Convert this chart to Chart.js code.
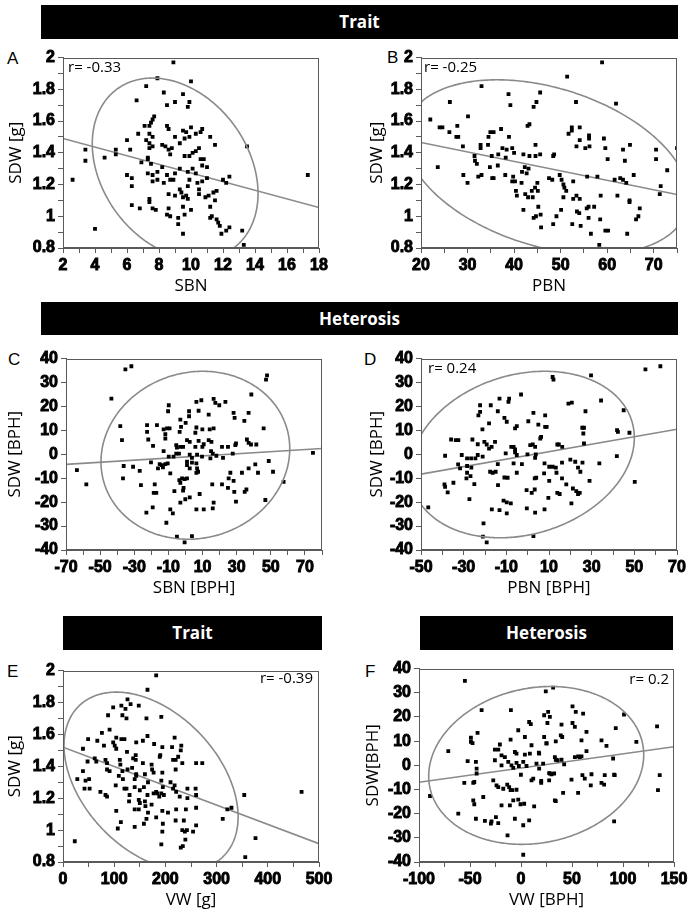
<!DOCTYPE html>
<html>
<head>
<meta charset="utf-8">
<script src="https://cdn.jsdelivr.net/npm/chart.js@4.4.0/dist/chart.umd.min.js"></script>
<style>
  html, body { margin: 0; padding: 0; background: #fff; }
  #page { position: relative; width: 691px; height: 915px; overflow: hidden; }
  .bar { position: absolute; background: #000; color: #fff; text-align: center;
         font: bold 17px "Open Sans", sans-serif; }
  .tag { position: absolute; font: 17px "Liberation Sans", Arial, sans-serif; color: #000; }
  .rval { position: absolute; font: 15px "Open Sans", sans-serif; color: #000; line-height: 18px; white-space: nowrap; }
  .panel { position: absolute; }
</style>
</head>
<body>
<div id="page">
  <div class="bar" style="left:41px;top:5px;width:637px;height:34px;line-height:34px">Trait</div>
  <div class="bar" style="left:41px;top:302px;width:637px;height:33px;line-height:33px">Heterosis</div>
  <div class="bar" style="left:63px;top:616px;width:259px;height:34px;line-height:34px">Trait</div>
  <div class="bar" style="left:420px;top:616px;width:253px;height:34px;line-height:34px">Heterosis</div>

  <div class="tag" style="left:7px;top:49px">A</div>
  <div class="tag" style="left:387px;top:48px">B</div>
  <div class="tag" style="left:8px;top:350px">C</div>
  <div class="tag" style="left:364px;top:350px">D</div>
  <div class="tag" style="left:7px;top:662px">E</div>
  <div class="tag" style="left:365px;top:662px">F</div>

  <div class="panel" style="left:0px;top:45px;width:337px;height:253px"><canvas id="chartA"></canvas></div>
  <div class="panel" style="left:358px;top:45px;width:337px;height:253px"><canvas id="chartB"></canvas></div>
  <div class="panel" style="left:3px;top:346px;width:337px;height:254px"><canvas id="chartC"></canvas></div>
  <div class="panel" style="left:358px;top:346px;width:337px;height:254px"><canvas id="chartD"></canvas></div>
  <div class="panel" style="left:0px;top:658px;width:337px;height:254px"><canvas id="chartE"></canvas></div>
  <div class="panel" style="left:356px;top:656px;width:336px;height:256px"><canvas id="chartF"></canvas></div>

  <div class="rval" style="left:68px;top:57px">r= -0.33</div>
  <div class="rval" style="left:424px;top:57px">r= -0.25</div>
  <div class="rval" style="left:428px;top:358px">r= 0.24</div>
  <div class="rval" style="right:378px;top:668px">r= -0.39</div>
  <div class="rval" style="right:22px;top:669px">r= 0.2</div>
</div>

<script>
// ---- data ----

// A: SBN vs SDW [g]
const sbnA = [8.9,7.9,10.0,7.2,8.3,9.5,6.6,9.0,9.9,8.5, 9.8,7.6,7.7,7.4,7.1,7.5,8.5,8.6,9.5,9.7,
  10.0,10.7,10.6,6.7,7.4,7.6,9.6,9.0,10.3,9.9, 11.2,6.0,7.2,7.4,7.6,8.4,8.2,9.3,11.5,13.5,
  3.4,5.3,6.2,7.4,8.6,8.8,10.5,10.3,10.1,9.9, 9.6,8.7,5.3,4.6,3.4,6.9,7.5,7.3,7.3,10.6,
  10.8,8.2,9.3,10.1,11.0,10.7,6.0,7.3,7.6,7.9, 8.5,9.0,9.8,10.3,2.6,6.3,7.6,7.9,8.3,8.7,
  8.9,9.9,10.4,10.7,11.0,12.0,12.2,12.4,17.3,6.3, 9.8,10.5,9.3,9.4,11.6,11.4,8.6,9.0,9.7,10.5,
  11.1,7.4,7.4,10.9,9.5,9.8,11.5,6.3,6.8,7.6, 7.8,8.6,9.5,10.0,11.2,8.5,8.7,9.2,9.6,11.2,
  11.3,11.6,11.7,9.2,11.8,4.0,12.4,12.2,11.9,9.5, 13.2,13.3]
const sdwA = [1.97,1.87,1.85,1.82,1.78,1.77,1.73,1.72,1.72,1.70, 1.69,1.61,1.63,1.57,1.57,1.59,1.57,1.55,1.54,1.53,
  1.56,1.55,1.53,1.52,1.52,1.50,1.49,1.50,1.52,1.50, 1.50,1.48,1.48,1.46,1.44,1.44,1.45,1.46,1.45,1.44,
  1.42,1.42,1.42,1.43,1.42,1.43,1.43,1.41,1.40,1.38, 1.38,1.39,1.39,1.37,1.35,1.34,1.33,1.36,1.37,1.36,
  1.36,1.31,1.30,1.30,1.31,1.32,1.26,1.27,1.26,1.28, 1.26,1.27,1.28,1.27,1.23,1.24,1.22,1.23,1.21,1.23,
  1.23,1.23,1.21,1.22,1.24,1.23,1.21,1.25,1.26,1.19, 1.19,1.17,1.17,1.15,1.16,1.15,1.14,1.13,1.13,1.14,
  1.13,1.11,1.09,1.12,1.12,1.11,1.10,1.07,1.05,1.05, 1.04,1.05,1.06,1.04,1.06,1.01,1.00,0.99,1.01,0.99,
  1.00,0.98,0.96,0.95,0.94,0.92,0.93,0.91,0.89,0.89, 0.91,0.82]

// B: PBN vs SDW [g]
const pbnB = [58.9,51.4,33,61.9,38.8,45.6,26.2,44.2,44.8,39.2, 53.3,22,30.1,24,24.6,26.1,27.8,27.6,28.0,37.2,
  43.3,42.9,34.9,35.6,34.5,38.9,52.4,52.4,54.1,56.1, 56.1,51.7,53.4,54.1,55.3,56.2,59.3,59.6,63.4,64.9,
  70.5,70.5,75,60.1,63.8,23.6,29,32.8,32.8,34.4, 37.5,38.4,39.6,35.2,36.6,36.5,38.2,40,42,43.3,
  44.6,44.6,45.6,48.4,48.6,31.5,31.6,32.0,34.8,35.3, 35.6,33.0,32.3,29.1,30.0,38.1,39.6,39.8,40.2,40.4,
  40.6,41.6,41.7,42.3,42.7,43.1,42.4,43.0,44.0,43.8, 45.0,45.1,45.2,44.5,42.0,44.2,44.7,45.7,45.8,47.5,
  48.2,49.8,50.2,50.6,50.8,51.2,50.1,49.1,48.4,50.6, 52.7,52.7,53.4,54.1,53.5,54.0,52.5,54.3,55.6,56.0,
  56.0,56.5,57.2,55.7,57.9,58.6,58.5,59.6,60.2,58.3, 61.6,62.2,62.8,63.4,64.1,65.7,64.3,64.8,64.8,66.2,
  67.0,66.7,71.5,71.3,72.9]
const sdwB = [1.97,1.88,1.82,1.71,1.77,1.78,1.72,1.69,1.72,1.70, 1.72,1.61,1.63,1.56,1.56,1.53,1.57,1.50,1.50,1.55,
  1.58,1.57,1.53,1.53,1.50,1.50,1.56,1.54,1.56,1.51, 1.49,1.52,1.44,1.48,1.43,1.44,1.49,1.43,1.42,1.45,
  1.42,1.36,1.43,1.36,1.35,1.31,1.44,1.45,1.43,1.45, 1.43,1.42,1.43,1.38,1.39,1.32,1.37,1.40,1.39,1.38,
  1.38,1.45,1.39,1.38,1.39,1.38,1.35,1.33,1.31,1.24, 1.24,1.26,1.25,1.26,1.21,1.26,1.22,1.25,1.22,1.16,
  1.13,1.21,1.28,1.31,1.27,1.30,1.14,1.12,1.12,1.16, 1.21,1.16,1.06,1.18,1.04,0.99,1.00,1.01,0.93,1.24,
  1.23,1.26,1.23,1.20,1.18,1.16,1.04,1.00,0.95,1.12, 1.22,1.11,1.13,1.11,1.03,1.02,0.95,0.94,1.05,1.06,
  0.99,0.89,1.06,1.25,1.25,1.13,0.98,0.91,0.91,0.82, 1.23,1.13,1.24,1.23,1.21,1.26,0.89,1.10,1.09,0.98,
  1.05,1.00,1.19,1.14,1.29]

// C: SBN [BPH] vs SDW [BPH]
const sbnC = [-31.7,-35.2,47.8,47.2,-43.4,38.6,9.3,6.4,16.5,17.5, 19.8,23.4,-9.8,-10.2,7.7,2.1,2.1,13.6,28.2,28.8,
  37.0,34.5,-3.0,-38.2,-22.5,-16.7,-22.5,-12.8,-10.8,-9.3, -2.6,6.4,9.9,14.2,16.5,45.8,0.1,-3.4,-11.8,-11.8,
  5.8,-37.2,-21.8,0.9,2.5,13.6,15.2,7.7,36.0,37.0, 38.4,41.5,29.6,29.2,24.9,21.4,10.7,9.9,-5.4,-5.0,
  -3.0,-1.4,5.8,-19.0,-12.8,-5.4,-3.8,2.5,6.8,15.0, 16.0,18.1,22.0,27.7,74.7,3.8,9.7,14.6,-7.0,-9.8,
  -20.2,-15.1,-11.8,-10.4,-13.8,-13.2,-16.1,0.9,3.8,0.9, 2.5,6.4,6.8,7.4,6.4,-36.2,-30.7,-26.8,-63.6,-58.1,
  -36.6,-8.9,-3.6,-2.0,-0.5,0.9,-3.0,26.3,33.1,37.0, 40.9,42.5,48.8,51.3,57.5,28.2,25.3,-26.1,-18.0,-18.6,
  -17.1,15.7,21.4,24.9,35.7,34.7,28.6,-1.1,-1.4,-6.5, 8.3,16.5,29.6,46.8,-3.0,2.5,-0.1,-19.2,-22.9,-8.9,
  -7.4,6.4,10.7,16.0,-11.2,-5.0,3.8,-0.5]
const sdwC = [36.8,35.5,33.0,31.2,23.3,25.0,22.6,21.9,23.2,21.5, 20.5,21.9,20.5,18.0,18.2,18.0,15.9,16.6,17.3,15.2,
  17.3,14.0,14.5,11.8,12.2,12.2,9.4,10.4,10.8,10.8, 11.5,11.2,10.4,10.4,10.8,10.8,13.1,9.4,8.4,6.6,
  9.0,5.9,6.2,5.9,5.2,5.9,5.2,5.6,6.2,4.8, 4.1,4.1,4.5,3.8,3.1,3.1,4.2,3.1,3.8,2.8,
  3.1,3.1,3.1,3.5,1.3,0.3,0.3,-0.1,-0.1,1.3, 0.3,-0.6,-1.5,0.3,0.6,-1.5,-1.0,-1.7,-1.0,-1.0,
  -3.4,-4.1,-4.1,-3.8,-4.5,-5.5,-5.9,-3.1,-3.5,-4.5, -5.9,-3.8,-5.9,-7.3,-7.7,-4.9,-5.2,-6.9,-6.6,-12.6,
  -10.1,-8.0,-10.8,-10.1,-10.4,-10.1,-11.9,-7.7,-7.7,-5.9, -4.2,-7.7,-2.8,-7.3,-11.5,-11.1,-10.1,-12.9,-12.6,-16.1,
  -16.1,-12.6,-12.6,-14.0,-14.7,-15.7,-15.7,-14.0,-15.2,-15.4, -16.6,-20.2,-19.8,-19.1,-20.2,-18.0,-18.8,-22.2,-24.4,-23.0,
  -24.7,-23.0,-23.0,-22.6,-28.6,-34.4,-34.2,-36.8]

// D: PBN [BPH] vs SDW [BPH]
const pbnD = [62.2,55.2,29.7,11.7,12.1,-3.1,-13.2,-8.7,-9.0,20.7, 19.1,-17.3,-22.3,-22.3,-23.1,-14.0,2.7,27.1,45.0,8.2,
  -18.1,-10.9,-9.8,-5.1,-5.9,0.3,5.0,8.2,8.9,-21.2, 25.6,26.4,41.9,42.3,26.1,47.7,-35.9,-33.7,-32.5,-25.9,
  -20.3,-19.2,-15.3,-23.4,-16.9,-18.1,-7.7,-6.6,-5.9,-5.9, -5.1,1.2,2.4,3.5,5.9,6.3,26.4,13.9,14.6,16.2,
  -38.7,-30.9,-23.4,-10.3,-0.1,3.5,3.8,41.8,-26.5,-28.4, -24.5,-21.1,-32.6,-31.7,-28.4,-26.4,-14.0,-6.6,-2.7,7.9,
  10.1,11.7,13.2,16.1,20.0,22.3,23.6,25.7,24.7,-28.4, -5.1,-17.6,-16.4,-15.0,7.7,13.5,-26.8,-28.7,-10.9,-9.4,
  3.3,4.0,10.1,16.1,29.0,50.2,-39.0,-34.8,-38.7,-37.5, -25.0,-13.9,-0.5,3.3,13.9,15.0,18.1,21.2,22.8,23.6,
  24.4,-27.3,1.9,9.7,-11.3,-9.8,-7.9,-0.4,7.9,-16.8, -13.2,-9.8,3.5,20.5,-46.6,-20.7,-21.0,-19.2,2.7,33.6,
  34.4]
const sdwD = [36.8,35.5,33.0,32.3,31.2,25.0,23.3,23.3,21.9,21.6, 21.2,20.5,20.5,17.7,16.3,18.0,17.3,18.0,18.4,16.3,
  12.9,15.2,13.6,11.8,10.8,13.8,12.4,11.5,11.5,10.4, 11.1,11.1,10.1,9.4,8.7,9.0,6.2,5.9,5.9,6.2,
  5.2,4.1,5.2,4.2,3.1,2.4,3.1,3.1,2.0,0.8, -0.3,3.8,4.1,3.1,6.6,7.3,4.5,4.1,4.1,3.1,
  -0.6,-0.3,-0.3,0.4,0.0,-1.5,0.0,-0.8,-1.7,-1.7, -1.7,-1.0,-4.2,-5.9,-4.9,-5.6,-4.1,-3.8,-4.1,-3.8,
  -5.2,-5.2,-5.6,-3.5,-2.2,-3.1,-5.6,-3.5,-7.3,-7.7, -7.7,-7.3,-7.7,-7.3,-8.0,-7.7,-9.1,-10.1,-9.7,-9.8,
  -10.1,-9.8,-11.1,-10.1,-11.1,-11.5,-12.6,-11.9,-13.6,-15.9, -12.5,-12.9,-15.0,-14.7,-16.1,-16.6,-12.6,-14.3,-15.4,-16.6,
  -16.1,-18.7,-16.1,-18.2,-19.4,-20.1,-20.5,-22.6,-23.0,-23.0, -23.3,-24.7,-24.4,-20.5,-22.2,-28.9,-34.4,-36.8,-34.2,-3.8,
  22.5]

// E: VW [g] vs SDW [g]
const vwE = [182,165,126,98,148,114,122,132,88,116, 124,192,163,91,76,49,67,104,114,120,
  165,156,178,218,39,80,98,101,104,143, 194,213,231,230,125,142,190,189,215,220,
  225,48,62,65,83,86,111,112,137,142, 156,173,174,233,260,272,220,86,91,116,
  126,135,143,160,177,194,39,28,44,51, 117,140,143,109,103,166,192,210,195,218,
  124,140,158,42,52,73,83,86,120,130, 150,177,182,184,192,197,188,165,215,221,
  228,243,259,260,354,466,243,129,148,150, 148,160,161,173,104,113,140,166,194,205,
  221,240,260,312,329,321,158,163,195,220, 236,182,107,140,194,233,238,242,254,260,
  23,239,192,230,234,376,356]
const sdwE = [1.97,1.88,1.82,1.77,1.78,1.78,1.76,1.79,1.72,1.72, 1.70,1.71,1.70,1.63,1.61,1.57,1.56,1.58,1.57,1.57,
  1.59,1.56,1.54,1.58,1.51,1.53,1.55,1.53,1.51,1.55, 1.52,1.52,1.53,1.50,1.49,1.47,1.47,1.46,1.44,1.44,
  1.46,1.43,1.45,1.43,1.44,1.42,1.44,1.41,1.45,1.44, 1.42,1.41,1.38,1.42,1.42,1.42,1.38,1.38,1.37,1.37,
  1.38,1.39,1.35,1.35,1.36,1.36,1.37,1.32,1.31,1.32, 1.32,1.32,1.34,1.34,1.28,1.30,1.31,1.30,1.27,1.28,
  1.26,1.27,1.27,1.26,1.26,1.24,1.22,1.21,1.26,1.22, 1.25,1.23,1.24,1.23,1.23,1.22,1.21,1.22,1.26,1.24,
  1.21,1.26,1.26,1.22,1.22,1.24,1.20,1.18,1.19,1.17, 1.13,1.18,1.15,1.16,1.12,1.05,1.13,1.11,1.12,1.11,
  1.13,1.13,1.14,1.07,1.14,1.13,1.04,1.07,1.04,1.06, 1.06,1.08,1.01,1.02,0.99,1.00,0.99,1.00,0.99,1.03,
  0.93,0.94,0.91,0.89,0.90,0.95,0.83]

// F: VW [BPH] vs SDW [BPH]
const vwF = [-55.0,24.3,31.5,-38.6,-9.9,26.6,22.7,28.3,50.5,53.7, 60.9,101.0,8.0,9.6,25.9,39.7,50.5,52.8,92.9,133.4,
  -2.7,-49.1,-49.1,-47.5,-42.6,10.3,-10.2,3.8,22.7,25.0, 25.0,34.1,39.0,40.4,59.3,64.2,78.9,83.8,113.1,-71.3,
  -25.6,-22.3,-20.7,-19.1,-15.8,-6.0,-4.4,3.8,8.7,17.5, 17.8,33.2,34.1,35.8,39.7,42.3,52.8,56.0,57.6,59.3,
  64.2,90.3,-52.3,-44.2,-25.6,-19.1,-12.5,-9.3,-7.6,-4.4, -2.1,2.2,5.4,15.2,17.8,21.7,27.6,28.3,29.9,32.5,
  49.5,60.2,62.5,69.1,82.1,91.3,91.9,136.0,-43.5,-43.5, -45.8,-46.8,-55.6,-27.2,-24.0,-22.3,-17.4,-13.5,-11.6,-10.2,
  -8.6,-4.4,-0.1,10.3,12.0,19.8,19.8,27.6,41.3,56.0, 68.4,78.9,81.5,134.3,-89.2,-46.8,-45.8,-37.0,-7.6,-2.7,
  -0.5,3.1,12.9,-19.1,-10.9,33.2,34.1,-61.5,-44.2,-35.4, -29.5,-28.9,-24.6,-22.3,-13.2,-6.0,2.2,8.0,91.3,2.2]
const sdwF = [34.9,30.6,32.1,22.8,22.8,22.1,20.7,20.0,24.4,22.1, 21.4,21.0,17.9,17.0,17.5,16.8,17.5,15.9,15.4,16.1,
  14.5,11.4,9.7,9.2,13.4,8.3,10.6,11.7,11.7,9.2, 9.0,9.9,12.4,11.7,10.3,13.8,10.3,8.0,9.7,5.9,
  6.5,6.5,8.6,4.1,3.4,5.5,4.8,4.4,4.8,5.2, 4.8,3.4,2.3,2.1,2.3,0.4,3.4,3.7,3.4,3.7,
  5.9,2.8,1.7,1.4,2.1,0.0,1.4,0.0,-1.1,1.0, -0.3,1.4,-0.3,0.7,-1.4,0.7,-3.2,-3.4,-3.7,-3.4,
  -5.9,-4.1,-5.5,-3.7,-4.1,-3.9,-4.1,-4.1,-1.4,-3.4, -6.9,-7.3,-7.3,-6.2,-8.3,-9.0,-9.7,-8.0,-9.0,-10.3,
  -10.3,-10.1,-3.9,-6.2,-5.5,-6.5,-7.3,-6.2,-11.4,-11.4, -8.3,-7.3,-8.0,-10.3,-12.7,-14.5,-16.1,-13.1,-14.5,-14.2,
  -16.1,-15.9,-17.0,-16.6,-16.6,-14.5,-14.8,-20.0,-22.1,-23.0, -24.1,-23.2,-21.4,-23.9,-29.0,-22.1,-24.8,-22.8,-23.2,-37.0]

// fitted lines: [x start, x end], [y start, y end]
const fitXA = [2, 18],     fitYA = [1.49, 1.055]
const fitXB = [20, 75],    fitYB = [1.465, 1.137]
const fitXC = [-70, 80],   fitYC = [-4.2, 2.4]
const fitXD = [-50, 70],   fitYD = [-8.3, 10.5]
const fitXE = [0, 500],    fitYE = [1.52, 0.915]
const fitXF = [-100, 150], fitYF = [-7.0, 7.7]

// density ellipses in data units: [centre x, centre y, half range x, half range y, correlation term]
const ellA = [9.01, 1.30, 5.18, 0.571, -0.275]
const ellB = [47, 1.31, 30.5, 0.55, -0.349]
const ellC = [5.8, -0.4, 55.3, 35.1, 0.078]
const ellD = [-2.5, -0.1, 52.5, 34.8, 0.20]
const ellE = [172, 1.3065, 170, 0.5585, -0.40]
const ellF = [14.9, -0.05, 105.4, 32.65, 0.135]

// axis ranges and tick labels
const sdwGTicks = [0.8, 1, 1.2, 1.4, 1.6, 1.8, 2]
const bphTicks = [-40, -30, -20, -10, 0, 10, 20, 30, 40]
const sbnTicks = [2, 4, 6, 8, 10, 12, 14, 16, 18]
const pbnTicks = [20, 30, 40, 50, 60, 70]
const sbnBphTicks = [-70, -50, -30, -10, 10, 30, 50, 70]
const pbnBphTicks = [-50, -30, -10, 10, 30, 50, 70]
const vwTicks = [0, 100, 200, 300, 400, 500]
const vwBphTicks = [-100, -50, 0, 50, 100, 150]

// ---- drawing ----
Chart.defaults.color = "#000"
Chart.defaults.animation = false
Chart.defaults.font.family = "'Liberation Sans', Arial, sans-serif"

const GREY = "#8a8a8a"
const AXIS = "#5a5a5a"

// box round the plot area
const framePlugin = {
  id: "frame",
  afterDraw(chart) {
    const { ctx, chartArea: a } = chart
    ctx.save()
    ctx.strokeStyle = AXIS
    ctx.lineWidth = 1
    ctx.strokeRect(Math.round(a.left) + 0.5, Math.round(a.top) + 0.5,
      Math.round(a.right - a.left) - 1, Math.round(a.bottom - a.top) - 1)
    ctx.restore()
  },
}

// density ellipse traced through the chart's own scales
const ellipsePlugin = {
  id: "confEllipse",
  afterDatasetsDraw(chart, args, opts) {
    const [cx, cy, w, h, c] = opts.shape
    const phi = Math.acos(c)
    const xs = chart.scales.x
    const ys = chart.scales.y
    const { ctx, chartArea: a } = chart
    ctx.save()
    ctx.beginPath()
    ctx.rect(a.left, a.top, a.right - a.left, a.bottom - a.top)
    ctx.clip()
    ctx.beginPath()
    const steps = 360
    for (let i = 0; i <= steps; i++) {
      const t = (i / steps) * Math.PI * 2
      const px = xs.getPixelForValue(cx + w * Math.cos(t))
      const py = ys.getPixelForValue(cy + h * Math.cos(t - phi))
      if (i === 0) ctx.moveTo(px, py)
      else ctx.lineTo(px, py)
    }
    ctx.closePath()
    ctx.strokeStyle = GREY
    ctx.lineWidth = 1.6
    ctx.stroke()
    ctx.restore()
  },
}

function labelFrom(list) {
  return (value) => {
    const hit = list.find((v) => Math.abs(v - value) < 1e-6)
    return hit === undefined ? "" : String(hit)
  }
}

function axis(opts) {
  return {
    type: "linear",
    min: opts.min,
    max: opts.max,
    afterFit: opts.fit,
    ticks: {
      stepSize: opts.step,
      autoSkip: false,
      maxRotation: 0,
      padding: 3,
      color: "#000",
      textStrokeColor: "#000",
      textStrokeWidth: 0.9,
      font: { size: 16, weight: "bold", family: "'Liberation Sans', Arial, sans-serif" },
      callback: labelFrom(opts.labels),
    },
    grid: { drawOnChartArea: false, drawTicks: true, tickLength: 5, tickColor: AXIS },
    border: { color: AXIS, width: 1 },
    title: {
      display: true,
      text: opts.title,
      color: "#000",
      font: { size: 17, family: "'Open Sans', sans-serif" },
      padding: opts.titlePad,
    },
  }
}

function makePanel(id, p) {
  const points = p.xs.map((x, i) => ({ x: x, y: p.ys[i] }))
  new Chart(document.getElementById(id), {
    type: "scatter",
    data: {
      datasets: [
        {
          data: points,
          pointStyle: "rect",
          pointRadius: 2.7,
          pointBorderWidth: 0,
          pointBackgroundColor: "#000",
          backgroundColor: "#000",
        },
        {
          data: [
            { x: p.fitX[0], y: p.fitY[0] },
            { x: p.fitX[1], y: p.fitY[1] },
          ],
          showLine: true,
          pointRadius: 0,
          borderColor: GREY,
          borderWidth: 1.6,
        },
      ],
    },
    options: {
      responsive: true,
      maintainAspectRatio: false,
      animation: false,
      layout: { padding: { top: 12, right: 18, bottom: 0, left: 0 } },
      plugins: {
        legend: { display: false },
        tooltip: { enabled: false },
        confEllipse: { shape: p.ell },
      },
      scales: {
        x: axis({
          min: p.xMin, max: p.xMax, step: p.xStep, labels: p.xLabels, title: p.xTitle,
          titlePad: { top: 0, bottom: 2 },
          fit: (s) => { s.height = 50 },
        }),
        y: axis({
          min: p.yMin, max: p.yMax, step: p.yStep, labels: p.yLabels, title: p.yTitle,
          titlePad: { top: p.yTitlePad, bottom: 0 },
          fit: (s) => { s.width = 63 },
        }),
      },
    },
    plugins: [framePlugin, ellipsePlugin],
  })
}

makePanel("chartA", {
  xs: sbnA, ys: sdwA, fitX: fitXA, fitY: fitYA, ell: ellA,
  xMin: 2, xMax: 18, xStep: 1, xLabels: sbnTicks, xTitle: "SBN",
  yMin: 0.8, yMax: 2, yStep: 0.1, yLabels: sdwGTicks, yTitle: "SDW [g]", yTitlePad: 6,
})
makePanel("chartB", {
  xs: pbnB, ys: sdwB, fitX: fitXB, fitY: fitYB, ell: ellB,
  xMin: 20, xMax: 75, xStep: 5, xLabels: pbnTicks, xTitle: "PBN",
  yMin: 0.8, yMax: 2, yStep: 0.1, yLabels: sdwGTicks, yTitle: "SDW [g]", yTitlePad: 9,
})
makePanel("chartC", {
  xs: sbnC, ys: sdwC, fitX: fitXC, fitY: fitYC, ell: ellC,
  xMin: -70, xMax: 80, xStep: 10, xLabels: sbnBphTicks, xTitle: "SBN [BPH]",
  yMin: -40, yMax: 40, yStep: 10, yLabels: bphTicks, yTitle: "SDW [BPH]", yTitlePad: 2,
})
makePanel("chartD", {
  xs: pbnD, ys: sdwD, fitX: fitXD, fitY: fitYD, ell: ellD,
  xMin: -50, xMax: 70, xStep: 10, xLabels: pbnBphTicks, xTitle: "PBN [BPH]",
  yMin: -40, yMax: 40, yStep: 10, yLabels: bphTicks, yTitle: "SDW [BPH]", yTitlePad: 9,
})
makePanel("chartE", {
  xs: vwE, ys: sdwE, fitX: fitXE, fitY: fitYE, ell: ellE,
  xMin: 0, xMax: 500, xStep: 50, xLabels: vwTicks, xTitle: "VW [g]",
  yMin: 0.8, yMax: 2, yStep: 0.1, yLabels: sdwGTicks, yTitle: "SDW [g]", yTitlePad: 5,
})
makePanel("chartF", {
  xs: vwF, ys: sdwF, fitX: fitXF, fitY: fitYF, ell: ellF,
  xMin: -100, xMax: 150, xStep: 25, xLabels: vwBphTicks, xTitle: "VW [BPH]",
  yMin: -40, yMax: 40, yStep: 10, yLabels: bphTicks, yTitle: "SDW[BPH]", yTitlePad: 7,
})
</script>
</body>
</html>
